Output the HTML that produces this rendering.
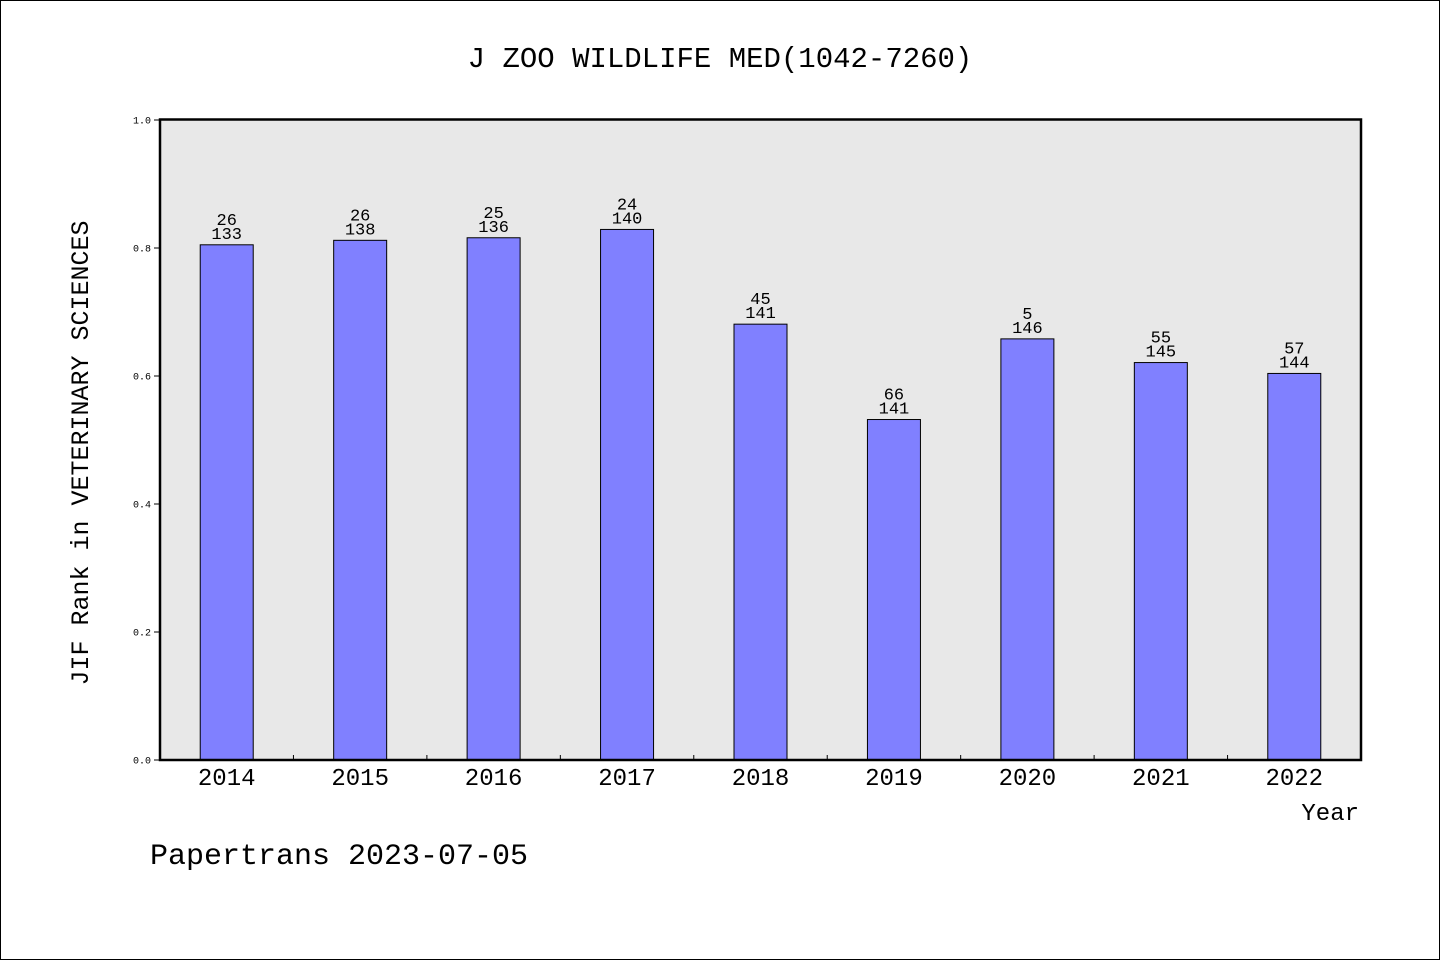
<!DOCTYPE html>
<html><head><meta charset="utf-8"><style>
body{margin:0;background:#fff}
svg{display:block}
text{font-family:"Liberation Mono","WenQuanYi Zen Hei",monospace;fill:#000}
</style></head><body>
<svg width="1440" height="960">
<rect x="0.5" y="0.5" width="1439" height="959" fill="#fff" stroke="#000"/>
<text x="720" y="67" font-size="29" text-anchor="middle">J ZOO WILDLIFE MED(1042-7260)</text>
<rect x="160" y="119.5" width="1201" height="640.5" fill="#e8e8e8"/>
<g id="bars"></g>
<rect x="160" y="119.5" width="1201" height="640.5" fill="none" stroke="#000" stroke-width="2.5"/>
<g id="axes"></g>
<text x="88" y="453" font-size="25" text-anchor="middle" transform="rotate(-90 88 453)">JIF Rank in VETERINARY SCIENCES</text>
<text x="1359" y="820" font-size="24" text-anchor="end">Year</text>
<text x="150" y="864" font-size="30">Papertrans 2023-07-05</text>
</svg>
<script>
const years=["2014","2015","2016","2017","2018","2019","2020","2021","2022"];
const values=[0.805,0.812,0.816,0.829,0.681,0.532,0.658,0.621,0.604];
const ranks=["26","26","25","24","45","66","5","55","57"];
const totals=["133","138","136","140","141","141","146","145","144"];
const yTicks=["0.0","0.2","0.4","0.6","0.8","1.0"];
const NS="http://www.w3.org/2000/svg";
const x0=160,x1=1361,yB=760,yT=120;
const step=(x1-x0)/years.length;
const xc=i=>x0+step*(i+0.5);
const ys=v=>yB-(yB-yT)*v;
const bars=document.getElementById('bars'),axes=document.getElementById('axes');
function mk(tag,attrs,parent){const e=document.createElementNS(NS,tag);for(const k in attrs)e.setAttribute(k,attrs[k]);parent.appendChild(e);return e;}
years.forEach((y,i)=>{
  const v=values[i];
  const r=mk('rect',{x:xc(i)-26.5,y:ys(v),width:53,height:yB-ys(v),fill:'#8080ff',stroke:'#000','stroke-width':1},bars);
  
  
  const t1=mk('text',{x:xc(i),y:ys(v)-20,'font-size':17,'text-anchor':'middle'},bars);
  t1.textContent=ranks[i];
  
  
  const t2=mk('text',{x:xc(i),y:ys(v)-6,'font-size':17,'text-anchor':'middle'},bars);
  t2.textContent=totals[i];
  
  
  const xl=mk('text',{x:xc(i),y:785,'font-size':24,'text-anchor':'middle'},axes);
  xl.textContent=y;
  
  
  if(i>0){const tk=mk('line',{x1:x0+step*i,x2:x0+step*i,y1:yB,y2:yB-5,stroke:'#000'},axes);
    
    }
});
yTicks.forEach((t,i)=>{
  const v=parseFloat(t),y=ys(v);
  const ln=mk('line',{x1:x0-6,x2:x0,y1:y,y2:y,stroke:'#000'},axes);
  
  
  const tx=mk('text',{x:x0-9,y:y+3.5,'font-size':10,'text-anchor':'end'},axes);
  tx.textContent=t;
  
  
});
</script>
</body></html>
